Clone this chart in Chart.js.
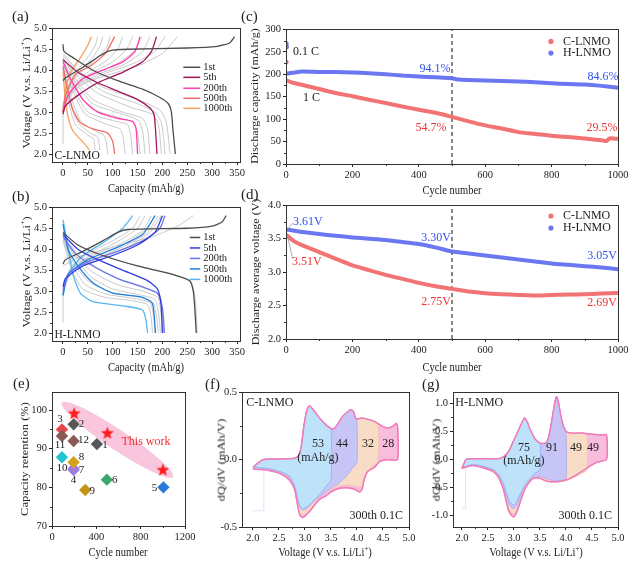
<!DOCTYPE html>
<html>
<head>
<meta charset="utf-8">
<script src="https://cdn.jsdelivr.net/npm/chart.js@4.4.1/dist/chart.umd.min.js"></script>
<style>
body{margin:0;background:#fff;}
#wrap{position:relative;width:644px;height:570px;overflow:hidden;font-family:"Liberation Serif","Times New Roman",serif;color:#222;}
canvas{position:absolute;}
.lab{position:absolute;font-size:15px;line-height:15px;}
.tx{position:absolute;font-size:12.5px;white-space:nowrap;transform:translate(-50%,-50%) scaleX(0.84);}
.ty{position:absolute;font-size:12.5px;line-height:13px;white-space:nowrap;transform:translate(-50%,-50%) rotate(-90deg) scaleY(0.84);}
sup{font-size:8px;}
</style>
</head>
<body>
<div id="wrap">
	<canvas id="ca"></canvas><canvas id="cb"></canvas><canvas id="cc"></canvas><canvas id="cd"></canvas>
	<canvas id="ce"></canvas><canvas id="cf"></canvas><canvas id="cg"></canvas>

	<div class="lab" style="left:12px;top:9px">(a)</div>
	<div class="lab" style="left:241px;top:9px">(c)</div>
	<div class="lab" style="left:12px;top:189px">(b)</div>
	<div class="lab" style="left:241px;top:187px">(d)</div>
	<div class="lab" style="left:13px;top:376px">(e)</div>
	<div class="lab" style="left:205px;top:377px">(f)</div>
	<div class="lab" style="left:422px;top:377px">(g)</div>

	<div class="ty" style="left:25px;top:93px">Voltage (V v.s. Li/Li<sup>+</sup>)</div>
	<div class="tx" style="left:146px;top:188px">Capacity (mAh/g)</div>
	<div class="ty" style="left:25px;top:272px">Voltage (V v.s. Li/Li<sup>+</sup>)</div>
	<div class="tx" style="left:146px;top:367px">Capacity (mAh/g)</div>
	<div class="ty" style="left:255px;top:96px;font-size:12px">Discharge capacity (mAh/g)</div>
	<div class="tx" style="left:452px;top:190px">Cycle number</div>
	<div class="ty" style="left:256px;top:272px;font-size:12px">Discharge average voltage (V)</div>
	<div class="tx" style="left:452px;top:367px">Cycle number</div>
	<div class="ty" style="left:25px;top:459px">Capacity retention (%)</div>
	<div class="tx" style="left:118px;top:552px">Cycle number</div>
	<div class="ty" style="left:222px;top:460px">dQ/dV (mAh/V)</div>
	<div class="tx" style="left:325px;top:552px">Voltage (V v.s. Li/Li<sup>+</sup>)</div>
	<div class="ty" style="left:437px;top:460px">dQ/dV (mAh/V)</div>
	<div class="tx" style="left:536px;top:552px">Voltage (V v.s. Li/Li<sup>+</sup>)</div>
</div>
<script>
// ===== data =====
// (a) C-LNMO charge / discharge profiles, flat lists of capacity, voltage pairs
var aLegend = ['1st', '5th', '200th', '500th', '1000th'];
var aCharge = [
	[0,3.75, 5,3.82, 40,4.07, 75,4.35, 95,4.47, 130,4.5, 250,4.53, 310,4.57, 335,4.65, 345,4.8],
	[0,2.95, 5,3.15, 30,3.4, 70,3.7, 120,3.95, 160,4.2, 178,4.45, 188,4.8],
	[0,3.0, 10,3.4, 40,3.8, 80,4.0, 120,4.2, 145,4.45, 155,4.8],
	[0,3.0, 5,3.4, 25,3.9, 55,4.1, 85,4.4, 104,4.8],
	[0,3.0, 5,3.5, 15,3.95, 35,4.3, 50,4.6, 57,4.8]
];
var aDischarge = [
	[0,4.62, 2,4.45, 20,4.3, 60,4.0, 110,3.75, 160,3.55, 195,3.35, 212,3.2, 218,3.0, 221,2.6, 226,2.0],
	[0,4.25, 30,3.95, 70,3.7, 110,3.5, 150,3.3, 175,3.1, 183,2.95, 186,2.6, 189,2.0],
	[0,4.2, 15,3.8, 40,3.3, 70,3.0, 110,2.85, 140,2.78, 147,2.6, 150,2.0],
	[0,4.1, 8,3.6, 20,3.05, 35,2.75, 60,2.6, 90,2.5, 100,2.3, 104,2.0],
	[0,3.95, 4,3.4, 10,2.9, 20,2.55, 35,2.35, 50,2.15, 55,2.0]
];
var aGrayCharge = [
	[0,2.25, 0,3.2],
	[0,3.2, 30,3.6, 80,3.85, 150,4.1, 200,4.4, 230,4.8],
	[0,3.15, 30,3.6, 80,3.9, 140,4.15, 185,4.45, 205,4.8],
	[0,3.1, 25,3.6, 70,3.9, 125,4.15, 160,4.45, 175,4.8],
	[0,3.1, 22,3.6, 65,3.92, 112,4.18, 145,4.48, 158,4.8],
	[0,3.1, 20,3.6, 60,3.95, 100,4.2, 128,4.5, 140,4.8],
	[0,3.1, 15,3.6, 50,3.95, 90,4.25, 112,4.55, 120,4.8],
	[0,3.1, 12,3.6, 40,4.0, 70,4.3, 88,4.55, 95,4.8],
	[0,3.1, 10,3.6, 35,4.0, 60,4.3, 75,4.6, 80,4.8],
	[0,3.1, 10,3.6, 30,4.0, 52,4.35, 65,4.6, 70,4.8]
];
var aGrayDischarge = [
	[0,4.4, 30,4.0, 80,3.6, 150,3.3, 195,3.05, 207,2.8, 212,2.4, 215,2.0],
	[0,4.35, 30,3.95, 80,3.5, 150,3.2, 185,3.0, 198,2.75, 203,2.3, 205,2.0],
	[0,4.3, 25,3.9, 70,3.45, 140,3.1, 180,2.95, 192,2.7, 198,2.0],
	[0,4.3, 25,3.8, 60,3.3, 120,3.0, 160,2.85, 170,2.6, 175,2.0],
	[0,4.25, 20,3.8, 60,3.2, 120,2.95, 152,2.8, 160,2.55, 165,2.0],
	[0,4.2, 20,3.7, 55,3.1, 110,2.88, 142,2.75, 150,2.5, 155,2.0],
	[0,4.2, 20,3.6, 50,3.0, 100,2.8, 130,2.7, 136,2.45, 140,2.0],
	[0,4.15, 20,3.5, 45,2.95, 90,2.7, 115,2.6, 121,2.4, 125,2.0],
	[0,4.1, 15,3.4, 35,2.8, 65,2.55, 82,2.45, 87,2.3, 90,2.0],
	[0,4.05, 12,3.3, 30,2.75, 55,2.5, 70,2.4, 75,2.0],
	[0,4.0, 10,3.3, 25,2.7, 50,2.45, 62,2.35, 65,2.0]
];
// (b) H-LNMO charge / discharge profiles
var bLegend = ['1st', '5th', '200th', '500th', '1000th'];
var bCharge = [
	[0,3.65, 5,3.75, 40,3.95, 80,4.2, 110,4.4, 130,4.47, 250,4.5, 300,4.55, 320,4.65, 328,4.8],
	[0,3.1, 5,3.3, 40,3.6, 100,3.85, 150,4.1, 185,4.4, 200,4.8],
	[0,3.0, 10,3.4, 50,3.7, 110,3.95, 160,4.2, 195,4.5, 205,4.8],
	[0,2.9, 10,3.4, 50,3.75, 110,4.05, 160,4.35, 185,4.8],
	[0,2.9, 10,3.4, 40,3.85, 80,4.15, 120,4.5, 140,4.8]
];
var bDischarge = [
	[0,4.4, 30,4.1, 80,3.85, 150,3.6, 220,3.4, 255,3.25, 262,3.0, 265,2.6, 268,2.0],
	[0,4.35, 30,4.0, 70,3.75, 120,3.5, 170,3.25, 190,3.05, 197,2.7, 200,2.0],
	[0,4.3, 25,3.9, 60,3.6, 110,3.3, 160,3.1, 190,2.95, 200,2.6, 204,2.0],
	[0,4.6, 10,4.0, 30,3.6, 60,3.2, 100,2.95, 160,2.85, 180,2.7, 186,2.0],
	[0,4.7, 8,4.2, 20,3.4, 35,2.95, 60,2.75, 120,2.65, 160,2.55, 167,2.3, 170,2.0]
];
var bGrayCharge = [
	[0,2.25, 0,3.0],
	[0,3.6, 30,3.8, 100,4.05, 180,4.3, 230,4.55, 262,4.8],
	[0,3.05, 20,3.5, 70,3.8, 130,4.05, 175,4.4, 198,4.8],
	[0,3.05, 20,3.5, 70,3.8, 125,4.08, 170,4.4, 192,4.8],
	[0,3.0, 20,3.5, 65,3.82, 120,4.1, 165,4.45, 185,4.8],
	[0,3.0, 15,3.5, 60,3.85, 115,4.12, 160,4.45, 178,4.8],
	[0,3.0, 15,3.5, 55,3.85, 105,4.15, 150,4.5, 165,4.8],
	[0,3.0, 15,3.55, 50,3.9, 100,4.2, 140,4.5, 155,4.8]
];
var bGrayDischarge = [
	[0,4.4, 30,4.1, 80,3.85, 150,3.6, 220,3.4, 258,3.2, 266,2.8, 270,2.0],
	[0,4.3, 30,3.9, 70,3.55, 120,3.25, 170,3.05, 195,2.9, 200,2.5, 203,2.0],
	[0,4.3, 25,3.85, 60,3.45, 110,3.15, 160,3.0, 190,2.85, 197,2.5, 200,2.0],
	[0,4.25, 25,3.8, 55,3.35, 100,3.05, 150,2.92, 185,2.8, 193,2.4, 196,2.0],
	[0,4.25, 20,3.7, 50,3.25, 95,2.98, 145,2.88, 180,2.75, 188,2.4, 192,2.0],
	[0,4.2, 20,3.6, 45,3.15, 90,2.92, 140,2.83, 175,2.72, 182,2.4, 185,2.0],
	[0,4.2, 18,3.5, 40,3.05, 85,2.85, 135,2.78, 170,2.68, 177,2.4, 180,2.0]
];
var capTicks = [0, 50, 100, 150, 200, 250, 300, 350];
var voltTicks = [2.0, 2.5, 3.0, 3.5, 4.0, 4.5, 5.0];

// (c) discharge capacity vs cycle
var cycC = [0,20,50,100,150,200,250,300,350,400,450,500,550,600,650,700,750,800,850,900,950,965,975,1000];
var capC = [187,181,176,167,158,151,143,136,128,121,114,105,95,86,79,71,67,63,60,57,53,51,57,56];
var cycH = [0,20,50,100,150,200,250,300,350,400,450,500,520,550,600,650,700,750,800,850,900,950,1000];
var capH = [201,203,206,205,205,204,202,200,197,195,193,191,188,187,186,185,184,182,180,178,177,174,170];
var firstCycC = [0], firstCapC = [227];
var firstCycH = [0, 1], firstCapH = [268, 261];
var cycTicks = [0, 200, 400, 600, 800, 1000];
var capTicksC = [0, 50, 100, 150, 200, 250, 300];

// (d) average discharge voltage vs cycle
var cycV = [0,25,50,100,150,200,250,300,350,400,450,500,550,600,650,700,750,800,850,900,950,1000];
var voltC = [3.56,3.46,3.40,3.30,3.20,3.10,3.03,2.96,2.90,2.84,2.79,2.75,2.71,2.685,2.67,2.66,2.65,2.66,2.665,2.67,2.68,2.69];
var voltH = [3.64,3.62,3.60,3.57,3.545,3.52,3.50,3.48,3.45,3.42,3.37,3.31,3.28,3.25,3.22,3.19,3.16,3.13,3.11,3.09,3.07,3.045];
var avgTicks = [2.0, 2.5, 3.0, 3.5, 4.0];

// (e) capacity retention of reported cathodes (ids 1..12) and this work
var refCycles = [405, 195, 90, 195, 1005, 495, 195, 195, 300, 90, 90, 195];
var refRetention = [91.2, 96.3, 95.0, 84.5, 80.0, 82.0, 84.8, 86.5, 79.3, 87.8, 93.3, 92.0];
var workCycles = [200, 500, 1000];
var workRetention = [99.2, 94.1, 84.6];
var retXTicks = [0, 400, 800, 1200];
var retYTicks = [70, 80, 90, 100];

// (f) C-LNMO dQ/dV, charge branch and discharge branches after 3.5/4.0/4.4/4.8 V cut-off
var fUpV = [2.0,2.05,2.19,2.5,2.8,2.88,2.93,2.98,3.02,3.06,3.09,3.14,3.2,3.3,3.4,3.5,3.56,3.64,3.72,3.8,3.88,3.93,3.97,4.0,4.1,4.2,4.3,4.4,4.5,4.6,4.7,4.75,4.78];
var fUpY = [-0.055,-0.04,0.0,0.005,0.01,0.03,0.1,0.25,0.34,0.39,0.4,0.38,0.35,0.3,0.26,0.23,0.23,0.27,0.32,0.35,0.37,0.36,0.31,0.3,0.31,0.3,0.29,0.27,0.245,0.235,0.25,0.27,0.25];
var fLowBlueV = [3.5,3.4,3.3,3.2,3.1,3.0,2.95,2.9,2.85,2.8,2.7,2.5,2.3,2.0];
var fLowBlueY = [-0.15,-0.2,-0.25,-0.29,-0.33,-0.36,-0.365,-0.34,-0.27,-0.19,-0.12,-0.085,-0.065,-0.055];
var fLowLavV = [4.0,3.9,3.8,3.7,3.6,3.5,3.4,3.3,3.2,3.1,3.0,2.95,2.9,2.85,2.8,2.7,2.5,2.3,2.0];
var fLowLavY = [-0.02,-0.07,-0.12,-0.16,-0.19,-0.21,-0.24,-0.27,-0.3,-0.34,-0.37,-0.375,-0.35,-0.28,-0.2,-0.13,-0.09,-0.07,-0.06];
var fLowPeachV = [4.4,4.3,4.2,4.13,4.1,4.0,3.9,3.7,3.5,3.3,3.2,3.1,3.0,2.95,2.9,2.85,2.8,2.7,2.5,2.3,2.0];
var fLowPeachY = [-0.02,-0.05,-0.09,-0.14,-0.2,-0.2,-0.19,-0.19,-0.22,-0.27,-0.32,-0.37,-0.4,-0.41,-0.39,-0.31,-0.22,-0.14,-0.1,-0.075,-0.065];
var fLowPinkV = [4.78,4.6,4.45,4.34,4.2,4.13,4.1,4.05,3.95,3.85,3.7,3.6,3.5,3.4,3.3,3.2,3.1,3.0,2.95,2.9,2.85,2.8,2.7,2.5,2.3,2.0];
var fLowPinkY = [0.0,0.0,-0.01,-0.055,-0.09,-0.16,-0.22,-0.24,-0.22,-0.21,-0.21,-0.22,-0.24,-0.27,-0.29,-0.33,-0.38,-0.42,-0.43,-0.41,-0.32,-0.22,-0.15,-0.1,-0.08,-0.07];
var fCaps = ['53', '44', '32', '28'];

// (g) H-LNMO dQ/dV
var gUpV = [2.0,2.05,2.08,2.2,2.5,2.7,2.8,2.9,3.0,3.1,3.2,3.25,3.3,3.4,3.5,3.6,3.65,3.7,3.75,3.8,3.82,3.86,3.9,3.95,4.0,4.1,4.2,4.3,4.4,4.5,4.6,4.7,4.78];
var gUpY = [-0.16,-0.05,0.0,0.01,0.01,0.01,0.05,0.15,0.35,0.55,0.74,0.68,0.56,0.37,0.29,0.29,0.35,0.55,0.83,1.08,1.12,1.0,0.78,0.6,0.5,0.47,0.47,0.47,0.46,0.45,0.44,0.44,0.44];
var gLowBlueV = [3.5,3.4,3.3,3.2,3.1,3.05,3.0,2.95,2.9,2.85,2.8,2.7,2.6,2.4,2.2,2.0];
var gLowBlueY = [-0.19,-0.25,-0.35,-0.47,-0.66,-0.76,-0.82,-0.8,-0.72,-0.58,-0.44,-0.26,-0.18,-0.12,-0.09,-0.15];
var gLowLavV = [4.0,3.9,3.8,3.7,3.6,3.5,3.4,3.3,3.2,3.1,3.05,3.0,2.95,2.9,2.85,2.8,2.7,2.6,2.4,2.2,2.0];
var gLowLavY = [-0.36,-0.38,-0.38,-0.37,-0.34,-0.31,-0.3,-0.36,-0.48,-0.72,-0.83,-0.88,-0.86,-0.8,-0.64,-0.48,-0.28,-0.19,-0.13,-0.1,-0.15];
var gLowPeachV = [4.4,4.3,4.2,4.1,4.0,3.9,3.8,3.7,3.6,3.5,3.4,3.3,3.2,3.1,3.05,3.0,2.95,2.9,2.85,2.8,2.7,2.6,2.4,2.2,2.0];
var gLowPeachY = [-0.2,-0.25,-0.3,-0.34,-0.38,-0.4,-0.41,-0.4,-0.37,-0.33,-0.32,-0.38,-0.52,-0.78,-0.9,-0.97,-0.95,-0.88,-0.7,-0.52,-0.3,-0.2,-0.14,-0.1,-0.15];
var gLowPinkV = [4.78,4.6,4.5,4.4,4.3,4.2,4.1,4.0,3.9,3.8,3.7,3.6,3.5,3.4,3.3,3.2,3.1,3.05,3.0,2.95,2.9,2.85,2.8,2.7,2.6,2.4,2.2,2.0];
var gLowPinkY = [0.0,-0.05,-0.1,-0.16,-0.22,-0.28,-0.33,-0.37,-0.39,-0.4,-0.4,-0.38,-0.34,-0.33,-0.4,-0.55,-0.82,-0.95,-1.03,-1.0,-0.93,-0.75,-0.55,-0.32,-0.22,-0.15,-0.11,-0.16];
var gCaps = ['75', '91', '49', '49'];
var dqTicksX = [2.0, 2.5, 3.0, 3.5, 4.0, 4.5, 5.0];
var dqTicksF = [-0.5, 0.0, 0.5];
var dqTicksG = [-1.0, -0.5, 0.0, 0.5, 1.0];
var cutoffs = [3.5, 4.0, 4.4, 4.78];

// ===== helpers =====
var SERIF = '"Liberation Serif", "Times New Roman", serif';
Chart.defaults.font.family = SERIF;
Chart.defaults.color = '#222';

function pairs(arr) {
	var out = [];
	for (var i = 0; i < arr.length; i += 2) out.push({x: arr[i], y: arr[i + 1]});
	return out;
}
function zip(xs, ys) {
	var out = [];
	for (var i = 0; i < xs.length; i++) out.push({x: xs[i], y: ys[i]});
	return out;
}
// closed dQ/dV loop: charge branch up to cut-off, then the matching discharge branch
function loop(upV, upY, cut, lowV, lowY) {
	var out = [];
	for (var i = 0; i < upV.length && upV[i] <= cut + 1e-9; i++) out.push({x: upV[i], y: upY[i]});
	return out.concat(zip(lowV, lowY));
}

function axis(min, max, ticks, dec) {
	return {
		type: 'linear', min: min, max: max,
		afterBuildTicks: function(s) { s.ticks = ticks.map(function(v) { return {value: v}; }); },
		ticks: {
			font: {size: 10.5}, color: '#222', padding: 2, autoSkip: false, maxRotation: 0,
			callback: function(v) { return dec == null ? String(v) : Number(v).toFixed(dec); }
		},
		grid: {drawOnChartArea: false, tickLength: 3, tickColor: '#222'},
		border: {display: false}
	};
}

// put a canvas so that its plot area lands on [left, top, right, bottom]
function panel(id, area, xs, ys, datasets, notes) {
	var cv = document.getElementById(id);
	var L = area[0] - 40, T = area[1] - 8, R = area[2] + 16, B = area[3] + 22;
	cv.style.left = L + 'px'; cv.style.top = T + 'px';
	cv.width = R - L; cv.height = B - T;
	xs.afterFit = function(s) { s.height = B - area[3]; };
	ys.afterFit = function(s) { s.width = area[0] - L; };
	return new Chart(cv, {
		type: 'scatter',
		data: {datasets: datasets},
		options: {
			responsive: false, animation: false, devicePixelRatio: 1,
			layout: {padding: {top: area[1] - T, right: R - area[2], left: 0, bottom: 0}},
			scales: {x: xs, y: ys},
			plugins: {legend: {display: false}, tooltip: {enabled: false}, notes: {items: notes}}
		}
	});
}

// frame box and minor ticks
Chart.register({
	id: 'frame',
	afterDraw: function(chart) {
		var a = chart.chartArea, ctx = chart.ctx;
		ctx.save();
		ctx.strokeStyle = '#333'; ctx.lineWidth = 1;
		ctx.strokeRect(Math.round(a.left) + 0.5, Math.round(a.top) + 0.5, Math.round(a.right - a.left), Math.round(a.bottom - a.top));
		['x', 'y'].forEach(function(k) {
			var s = chart.scales[k], t = s.ticks;
			for (var i = 0; i < t.length - 1; i++) {
				var p = Math.round(s.getPixelForValue((t[i].value + t[i + 1].value) / 2)) + 0.5;
				ctx.beginPath();
				if (k === 'x') { ctx.moveTo(p, a.bottom); ctx.lineTo(p, a.bottom + 2); }
				else { ctx.moveTo(a.left, p); ctx.lineTo(a.left - 2, p); }
				ctx.stroke();
			}
		});
		ctx.restore();
	}
});

// texts, leader lines, legend marks and the ellipse, placed in data units
function drawNotes(chart, items, under) {
	if (!items) return;
	var ctx = chart.ctx, sx = chart.scales.x, sy = chart.scales.y;
	ctx.save();
	for (var i = 0; i < items.length; i++) {
		var n = items[i];
		if (!!n.under !== under) continue;
		if (n.t === 'line') {
			ctx.beginPath();
			ctx.strokeStyle = n.c || '#111'; ctx.lineWidth = n.w || 1;
			ctx.setLineDash(n.dash ? [4, 3] : []);
			ctx.moveTo(sx.getPixelForValue(n.x1), sy.getPixelForValue(n.y1));
			ctx.lineTo(sx.getPixelForValue(n.x2), sy.getPixelForValue(n.y2));
			ctx.stroke();
			ctx.setLineDash([]);
		} else if (n.t === 'dot') {
			ctx.beginPath(); ctx.fillStyle = n.c;
			ctx.arc(sx.getPixelForValue(n.x), sy.getPixelForValue(n.y), 2.6, 0, Math.PI * 2);
			ctx.fill();
		} else if (n.t === 'ellipse') {
			ctx.beginPath(); ctx.fillStyle = n.c;
			ctx.ellipse(sx.getPixelForValue(n.x), sy.getPixelForValue(n.y), n.rx, n.ry, n.rot, 0, Math.PI * 2);
			ctx.fill();
		} else {
			var px = sx.getPixelForValue(n.x) + (n.dx || 0), py = sy.getPixelForValue(n.y) + (n.dy || 0);
			ctx.font = (n.sz || 12) + 'px ' + SERIF;
			ctx.textAlign = n.al || 'center'; ctx.textBaseline = 'middle';
			if (n.bg) {
				var w = ctx.measureText(n.s).width;
				ctx.fillStyle = '#fff';
				ctx.fillRect(n.al === 'left' ? px - 1 : px - w / 2 - 1, py - 6, w + 2, 12);
			}
			ctx.fillStyle = n.c || '#222';
			ctx.fillText(n.s, px, py);
		}
	}
	ctx.restore();
}
Chart.register({
	id: 'notes',
	beforeDatasetsDraw: function(chart, args, o) { drawNotes(chart, o.items, true); },
	afterDatasetsDraw: function(chart, args, o) { drawNotes(chart, o.items, false); }
});

function line(data, color, width) {
	return {data: data, showLine: true, borderColor: color, borderWidth: width, pointRadius: 0, tension: 0.2, fill: false};
}

// ===== (a) and (b) charge-discharge profiles =====
function profiles(id, area, charge, discharge, grayC, grayD, colors, legend, yLeg, xLeg, tag) {
	var ds = [], notes = [];
	for (var i = 0; i < charge.length; i++) {
		ds.push(line(pairs(charge[i]), colors[i], 1.3));
		ds.push(line(pairs(discharge[i]), colors[i], 1.3));
	}
	grayC.concat(grayD).forEach(function(c) { ds.push(line(pairs(c), '#c8c8c8', 1)); });
	for (var k = 0; k < legend.length; k++) {
		notes.push({t: 'line', x1: xLeg, y1: yLeg[k], x2: 276, y2: yLeg[k], c: colors[k], w: 1.5});
		notes.push({x: 282, y: yLeg[k], s: legend[k], al: 'left', sz: 10.5});
	}
	notes.push({x: -17, y: 1.95, s: tag, al: 'left', sz: 11.5, bg: true});
	panel(id, area, axis(-22.1, 356, capTicks, null), axis(1.81, 5.0, voltTicks, 1), ds, notes);
}
profiles('ca', [52, 28, 240, 162], aCharge, aDischarge, aGrayCharge, aGrayDischarge,
	['#4d4d4d', '#a3145c', '#ff3db0', '#f36b63', '#f5a25a'], aLegend,
	[4.07, 3.83, 3.57, 3.33, 3.09], 242, 'C-LNMO');
profiles('cb', [52, 207, 240, 341], bCharge, bDischarge, bGrayCharge, bGrayDischarge,
	['#4d4d4d', '#2f3fd8', '#6a73f0', '#1e7fe0', '#55b8f0'], bLegend,
	[4.28, 4.03, 3.78, 3.53, 3.28], 255, 'H-LNMO');

// ===== (c) discharge capacity =====
var RED = 'rgba(240,108,108,0.95)', BLUE = 'rgba(98,112,240,0.95)';
function band(data, color) {
	return {data: data, showLine: true, borderColor: color, borderWidth: 4, borderCapStyle: 'round', pointRadius: 0, tension: 0.2};
}
function dots(data, color) {
	return {data: data, showLine: false, pointRadius: 2.6, backgroundColor: color, borderWidth: 0};
}
panel('cc', [286, 29, 618, 164], axis(0, 1000, cycTicks, null), axis(0, 300, capTicksC, null),
	[band(zip(cycH, capH), BLUE), band(zip(cycC, capC), RED), dots(zip(firstCycH, firstCapH), BLUE), dots(zip(firstCycC, firstCapC), RED)],
	[
		{t: 'line', x1: 500, y1: 0, x2: 500, y2: 300, dash: true, c: '#111', w: 1, under: true},
		{x: 21, y: 249, s: '0.1 C', al: 'left'},
		{x: 51, y: 147, s: '1 C', al: 'left'},
		{x: 449, y: 211, s: '94.1%', c: '#3050f0'},
		{x: 955, y: 193, s: '84.6%', c: '#3050f0'},
		{x: 437, y: 80, s: '54.7%', c: '#f03434'},
		{x: 952, y: 80, s: '29.5%', c: '#f03434'},
		{t: 'dot', x: 798, y: 273, c: RED}, {x: 834, y: 273, s: 'C-LNMO', al: 'left'},
		{t: 'dot', x: 798, y: 247, c: BLUE}, {x: 834, y: 247, s: 'H-LNMO', al: 'left'}
	]);

// ===== (d) average discharge voltage =====
panel('cd', [286, 205, 618, 339], axis(0, 1000, cycTicks, null), axis(2.0, 4.0, avgTicks, 1),
	[band(zip(cycV, voltH), BLUE), band(zip(cycV, voltC), RED)],
	[
		{t: 'line', x1: 500, y1: 2.0, x2: 500, y2: 4.0, dash: true, c: '#111', w: 1, under: true},
		{t: 'line', x1: 4, y1: 3.64, x2: 20, y2: 3.73, c: '#999', w: 0.8},
		{t: 'line', x1: 4, y1: 3.55, x2: 20, y2: 3.2, c: '#999', w: 0.8},
		{x: 21, y: 3.76, s: '3.61V', al: 'left', c: '#3050f0'},
		{x: 18, y: 3.15, s: '3.51V', al: 'left', c: '#f03434'},
		{x: 452, y: 3.51, s: '3.30V', c: '#3050f0'},
		{x: 452, y: 2.55, s: '2.75V', c: '#f03434'},
		{x: 952, y: 3.24, s: '3.05V', c: '#3050f0'},
		{x: 952, y: 2.54, s: '2.69V', c: '#f03434'},
		{t: 'dot', x: 798, y: 3.84, c: RED}, {x: 834, y: 3.84, s: 'C-LNMO', al: 'left'},
		{t: 'dot', x: 798, y: 3.66, c: BLUE}, {x: 834, y: 3.66, s: 'H-LNMO', al: 'left'}
	]);

// ===== (e) retention comparison =====
var starImg = document.createElement('canvas');
starImg.width = 14; starImg.height = 14;
var sc = starImg.getContext('2d');
sc.fillStyle = '#ff1c1c'; sc.beginPath();
for (var k = 0; k < 10; k++) {
	var r = k % 2 ? 2.8 : 6.8, ang = -Math.PI / 2 + k * Math.PI / 5;
	sc.lineTo(7 + r * Math.cos(ang), 7.6 + r * Math.sin(ang));
}
sc.closePath(); sc.fill();

var refColors = ['#575757', '#575757', '#e84848', '#a27be2', '#2a78d8', '#3aa86a', '#a27be2', '#d4a21a', '#c49414', '#23c4d2', '#8a5a55', '#8a5a55'];
var refOffsets = [[8, 1], [8, 0], [-2, -10], [0, 10], [-9, 1], [8, 0], [8, 1], [8, -5], [7, 1], [0, 11], [-2, 9], [10, -1]];
var eNotes = [
	{t: 'ellipse', x: 590, y: 92.3, rx: 67, ry: 10, rot: 0.59, c: '#fac6dd', under: true},
	{x: 848, y: 91.9, s: 'This work', c: '#f03030', under: true}
];
for (var i = 0; i < refCycles.length; i++) {
	eNotes.push({x: refCycles[i], y: refRetention[i], dx: refOffsets[i][0], dy: refOffsets[i][1], s: String(i + 1), sz: 11});
}
panel('ce', [52, 392, 185, 526], axis(0, 1200, retXTicks, null), axis(70, 104.6, retYTicks, null),
	[
		{data: zip(workCycles, workRetention), pointStyle: starImg, pointRadius: 7},
		{data: zip(refCycles, refRetention), pointStyle: 'rectRot', pointRadius: 6.2, backgroundColor: refColors, borderWidth: 0}
	], eNotes);

// ===== (f) and (g) dQ/dV with split capacities =====
function dqdv(id, area, xmin, ymin, ymax, yt, up, lows, caps, capPos, tag, tagY, capY, noteY, rest) {
	var fills = ['#bfe2fb', '#c6c5f6', '#f9dcc6', '#f8bcdd'];
	var edges = ['#95acf2', '#a9a8ef', '#f3c7a8', '#f27ab8'];
	var ds = [line(loop(up[0], up[1], cutoffs[3], lows[3][0], lows[3][1]), '#f27ab8', 1.5)];
	for (var i = 0; i < 4; i++) {
		var d = line(loop(up[0], up[1], cutoffs[i], lows[i][0], lows[i][1]), edges[i], 0.8);
		d.fill = 'shape'; d.backgroundColor = fills[i];
		ds.push(d);
	}
	var notes = [
		// faint rest-step trace at the start of the scan
		{t: 'line', x1: rest[0], y1: rest[1], x2: rest[0], y2: rest[2], c: '#e2e2fa', w: 1, under: true},
		{t: 'line', x1: 2.0, y1: rest[2], x2: rest[0], y2: rest[2], c: '#e2e2fa', w: 1, under: true},
		{x: 1.87, y: tagY, s: tag, al: 'left'},
		{x: capPos[0], y: noteY, s: '(mAh/g)'},
		{x: 4.37, y: ymin + (ymax - ymin) * 0.08, s: '300th 0.1C'}
	];
	for (var k = 0; k < 4; k++) notes.push({x: capPos[k], y: capY, s: caps[k]});
	panel(id, area, axis(xmin, 5.0, dqTicksX, 1), axis(ymin, ymax, yt, 1), ds, notes);
}
dqdv('cf', [242, 392, 409, 527], 1.79, -0.5, 0.5, dqTicksF, [fUpV, fUpY],
	[[fLowBlueV, fLowBlueY], [fLowLavV, fLowLavY], [fLowPeachV, fLowPeachY], [fLowPinkV, fLowPinkY]],
	fCaps, [3.25, 3.71, 4.21, 4.6], 'C-LNMO', 0.425, 0.12, 0.015, [2.21, -0.07, -0.38]);
dqdv('cg', [453, 392, 618, 527], 1.827, -1.21, 1.2, dqTicksG, [gUpV, gUpY],
	[[gLowBlueV, gLowBlueY], [gLowLavV, gLowLavY], [gLowPeachV, gLowPeachY], [gLowPinkV, gLowPinkY]],
	gCaps, [3.19, 3.73, 4.19, 4.52], 'H-LNMO', 1.02, 0.2, -0.03, [2.07, -0.16, -0.88]);
</script>
</body>
</html>
